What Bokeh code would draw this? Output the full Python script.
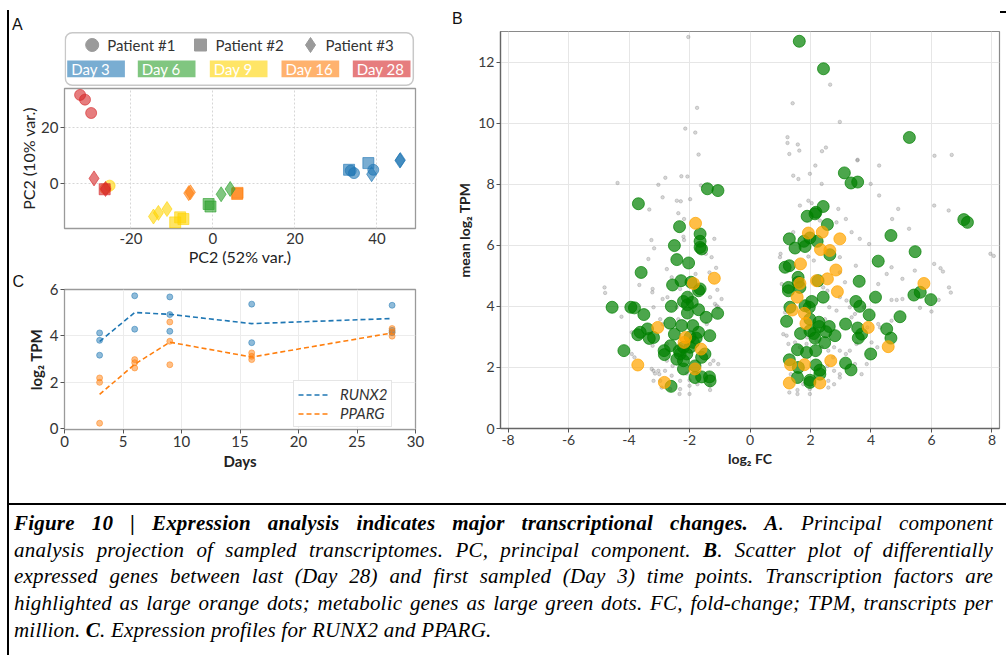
from bokeh.plotting import figure
from bokeh.layouts import row, column
from bokeh.models import Div, Range1d, Legend, LegendItem, FixedTicker, ColumnDataSource
from bokeh.embed import file_html
from bokeh.resources import INLINE

FONT = "Lato"

# ---------------- Panel A: PCA projection ----------------
day_labels = ["Day 3", "Day 6", "Day 9", "Day 16", "Day 28"]
day_colors = ["#1f77b4", "#2ca02c", "#ffd400", "#ff7f0e", "#d62728"]
patient_labels = ["Patient #1", "Patient #2", "Patient #3"]
patient_markers = ["circle", "square", "diamond"]

# day index (into day_labels), patient index (into patient_labels), PC1, PC2
pca_day = [2, 4, 4, 4, 4, 3, 4, 4,
           2, 2, 2, 2, 2, 2,
           3, 3, 3, 3,
           1, 1, 1, 1,
           0, 0, 0, 0, 0, 0, 0, 0]
pca_patient = [0, 0, 0, 0, 2, 0, 1, 2,
               2, 2, 2, 1, 1, 1,
               2, 2, 1, 1,
               1, 1, 2, 2,
               1, 1, 0, 0, 0, 2, 2, 2]
pca_x = [-25.2, -32.4, -31.2, -29.7, -29.0, -26.2, -26.4, -26.2,
         -14.5, -13.3, -11.2, -9.2, -8.0, -7.2,
         -5.9, -5.5, 5.9, 6.0,
         -1.05, -0.6, 2.0, 4.2,
         33.2, 37.9, 33.6, 34.4, 39.1, 38.7, 45.6, 45.7]
pca_y = [-0.8, 31.8, 30.1, 25.3, 1.8, -1.9, -2.1, -2.0,
         -11.9, -10.6, -9.2, -14.0, -12.2, -12.8,
         -3.5, -3.2, -3.8, -3.4,
         -7.4, -8.3, -3.9, -2.0,
         4.9, 7.3, 4.6, 3.7, 4.9, 3.3, 8.2, 8.4]

# ---------------- Panel B: differential expression ----------------
green_x = [-1.41, -1.06, -3.69, -2.33, -1.65, -1.65, -1.65, -1.60, -2.50, -2.42,
           -2.03, -3.60, -2.28, -2.56, -1.95, -1.65, -1.70, -2.07, -2.20, -1.91,
           -2.07, -4.56, -3.94, -3.82, -2.60, -1.70, -2.07, -3.51, -1.07, -1.45,
           -1.33, -2.65, -2.26, -1.89, -3.39, -3.63, -3.71, -3.33, -3.19, -2.50,
           -1.70, -1.78, -1.87, -1.98, -2.63, -2.84, -2.83, -2.34, -2.20, -2.09,
           -2.42, -2.20, -2.20, -1.49, -1.60, -4.17, -1.82, -1.82, -1.60, -1.34,
           -1.32, -2.61, -2.31, -1.98,
           1.63, 2.43, 5.27,
           3.12, 3.34, 3.56, 2.42, 2.18, 2.15, 1.89, 2.56, 7.07, 7.19,
           4.66, 1.30, 1.98, 2.22, 1.78, 1.49, 1.82, 2.64, 5.46, 4.24,
           1.16, 1.30, 3.61, 1.59, 1.59, 2.25, 1.27, 1.27, 1.65, 5.42,
           5.63, 5.98, 4.15, 2.42, 3.50, 3.63, 1.32, 1.82, 2.04, 1.96,
           3.94, 4.96, 1.21, 1.98, 2.28, 2.29, 2.62, 3.16, 1.98, 1.67,
           2.11, 2.51, 2.81, 3.56, 3.69, 3.58, 4.52, 4.66, 2.15, 2.47,
           1.57, 1.87, 2.17, 3.99, 1.30, 1.60, 2.18, 2.31, 2.31, 3.16,
           3.34, 1.57, 1.98, 1.98]
green_y = [7.85, 7.79, 7.36, 6.61, 6.37, 6.13, 5.93, 5.88, 5.99, 5.53,
           5.42, 5.11, 4.84, 4.70, 4.79, 4.57, 4.51, 4.30, 4.16, 4.13,
           4.05, 3.97, 3.97, 3.95, 4.00, 3.89, 3.78, 3.73, 3.77, 3.64,
           3.04, 3.45, 3.37, 3.37, 3.26, 3.15, 3.07, 2.95, 2.98, 3.09,
           3.15, 2.96, 2.82, 2.66, 2.71, 2.55, 2.42, 2.55, 2.66, 2.44,
           2.27, 2.22, 1.95, 2.44, 2.33, 2.55, 2.05, 1.67, 1.69, 1.69,
           1.56, 1.38, 2.44, 3.00,
           12.68, 11.78, 9.53,
           8.37, 8.04, 8.07, 7.27, 7.08, 7.03, 6.95, 6.68, 6.84, 6.75,
           6.32, 6.21, 6.24, 6.13, 6.13, 5.91, 5.96, 5.69, 5.79, 5.48,
           5.28, 5.33, 4.82, 4.95, 4.79, 4.84, 4.62, 4.51, 4.62, 4.37,
           4.46, 4.22, 4.30, 4.30, 4.16, 4.00, 3.97, 4.02, 4.16, 3.97,
           3.72, 3.66, 3.51, 3.58, 3.48, 3.34, 3.34, 3.42, 3.20, 3.11,
           3.11, 3.17, 3.04, 3.29, 3.09, 2.96, 3.26, 2.96, 2.96, 2.81,
           2.58, 2.49, 2.55, 2.44, 2.25, 2.00, 2.08, 1.91, 1.78, 2.14,
           1.92, 1.67, 1.58, 1.51]

orange_x = [-1.80, -1.18, -1.87, -3.05, -2.13, -2.18, -1.62, -3.71, -2.83, -1.82,
            1.93, 2.39, 2.97, 2.33, 2.64, 1.67, 2.84, 1.65, 2.20, 2.56,
            2.89, 5.75, 1.56, 1.40, 1.80, 1.85, 3.91, 4.57, 2.67, 1.34,
            1.80, 1.30, 2.31]
orange_y = [6.72, 4.92, 4.75, 3.31, 2.98, 2.82, 2.60, 2.08, 1.51, 1.95,
            6.40, 6.43, 6.21, 5.86, 5.83, 5.39, 5.19, 4.75, 4.84, 4.90,
            4.48, 4.75, 4.30, 3.88, 3.77, 3.44, 3.31, 2.68, 2.22, 2.09,
            2.09, 1.49, 1.49]

grey_x = [-2.04, -1.75, -2.14, -1.81, -1.70, 1.41, 2.65, 2.97, 1.24, 1.24,
          1.58, 1.63, 1.30, 2.38, 2.51, 6.10, 6.67, 3.56,
          -4.38, -2.80, -2.27, -2.07, -3.03, -2.89, -2.42, -2.29, -1.98, -1.62,
          -3.33, -2.37, -2.18, -3.26, -3.17, -2.20, -2.18, -1.18, -3.36, -2.75,
          -2.59, -4.81, -3.66, -3.22, -3.23, -1.12, -1.34, -1.08, -1.16, -1.10,
          -4.25, -3.19, -2.89, -2.73, -2.42, -2.37, -2.97, -2.89, -3.91, -2.75,
          -3.22, -3.91, -3.82, -3.25, -3.19, -3.14, -3.03, -3.00, -2.97, -3.19,
          -2.81, -2.59, -2.31, -2.31, -2.33, -2.00, -2.00, -2.00, -1.74, -1.32,
          -1.32, -1.32, -1.21, -1.05, -2.09, -2.56, -2.64, -2.92, -2.75, -1.43,
          -1.05, -1.32, -0.94, -1.46, -1.27, -1.80, -2.31, -4.79,
          3.55, 4.27, 1.43, 1.60, 2.16, 1.98, 2.37, 3.99, 4.27, 4.90,
          6.09, 6.57, 5.26, 4.70, 1.93, 2.04, 2.92, 3.17, 3.36, 3.63,
          3.94, 1.43, 1.65, 2.31, 2.86, 1.01, 0.99, 1.93, 2.97, 3.50,
          4.68, 4.52, 5.04, 6.09, 6.30, 6.58, 7.95, 6.24, 5.45, 5.62,
          6.00, 4.68, 4.85, 5.04, 4.24, 4.68, 3.77, 3.19, 3.30, 2.86,
          2.97, 2.62, 2.48, 1.16, 1.10, 1.21, 1.27, 1.49, 1.65, 1.87,
          1.89, 2.20, 2.37, 2.59, 2.78, 2.97, 2.75, 2.56, 2.78, 2.97,
          2.97, 2.78, 2.59, 2.59, 1.98, 1.98, 1.57, 1.57, 1.30, 1.76,
          1.35, 3.47, 3.69, 3.86, 4.02, 4.21, 3.52, 3.30, 3.17, 3.36,
          3.47, 3.88, 4.30, 1.05, 2.56, 2.42, 2.11, 2.97, 3.14, 4.24,
          6.64, 6.38, 8.06]
grey_y = [12.82, 10.50, 9.82, 9.69, 8.97, 10.65, 11.26, 10.04, 9.54, 9.35,
          9.30, 9.10, 8.99, 9.08, 9.20, 8.93, 8.96, 8.80,
          8.04, 8.21, 8.26, 8.25, 7.98, 7.57, 7.46, 7.44, 7.51, 7.96,
          7.17, 7.05, 6.86, 6.17, 5.90, 6.28, 6.17, 6.21, 5.55, 5.22,
          4.95, 4.62, 4.70, 4.57, 4.46, 5.26, 5.11, 4.54, 4.08, 4.02,
          3.66, 3.97, 4.24, 4.30, 3.97, 3.58, 3.58, 3.42, 3.15, 2.77,
          2.71, 2.44, 2.33, 1.95, 1.89, 1.80, 1.89, 1.78, 1.56, 1.56,
          1.89, 1.73, 1.56, 1.29, 1.13, 1.13, 1.40, 1.58, 1.45, 1.40,
          1.26, 2.11, 2.22, 2.11, 1.80, 2.05, 1.29, 1.34, 2.22, 3.42,
          3.97, 4.30, 4.24, 5.72, 5.61, 5.06, 4.57, 4.44,
          8.78, 8.61, 8.28, 8.17, 8.61, 8.34, 8.01, 8.01, 7.63, 7.19,
          7.30, 7.14, 6.54, 6.86, 7.46, 7.38, 7.19, 6.86, 6.43, 6.21,
          6.04, 6.43, 7.30, 6.81, 6.75, 5.72, 5.61, 5.63, 5.61, 5.33,
          5.28, 5.06, 4.90, 5.39, 5.25, 4.62, 5.72, 4.21, 5.17, 3.95,
          3.83, 4.21, 4.21, 4.24, 3.42, 3.53, 3.97, 4.19, 3.97, 3.86,
          4.30, 3.97, 3.58, 3.80, 3.09, 3.04, 2.77, 2.82, 2.66, 2.77,
          2.98, 2.87, 2.66, 2.55, 2.66, 2.55, 2.33, 2.05, 1.89, 1.78,
          1.67, 1.45, 1.34, 1.56, 1.29, 1.13, 1.26, 1.13, 1.18, 1.45,
          1.78, 2.11, 1.78, 2.11, 2.82, 2.66, 2.77, 2.55, 2.44, 3.64,
          3.75, 3.31, 3.31, 4.73, 4.51, 4.62, 5.50, 5.11, 4.79, 4.73,
          4.45, 5.14, 5.65]

# ---------------- Panel C: expression profiles ----------------
days = [3, 6, 9, 16, 28]
runx2_mean = [3.76, 5.01, 4.93, 4.53, 4.75]
pparg_mean = [1.48, 2.78, 3.73, 3.09, 4.13]
runx2_days = [3, 3, 3, 6, 6, 9, 9, 9, 16, 16, 28, 28, 28]
runx2_vals = [4.13, 3.81, 3.17, 5.73, 4.29, 5.68, 4.92, 4.20, 5.37, 3.71, 5.32, 4.24, 4.14]
pparg_days = [3, 3, 3, 6, 6, 6, 9, 9, 9, 16, 16, 16, 28, 28, 28]
pparg_vals = [2.19, 2.00, 0.24, 2.98, 2.85, 2.62, 4.60, 3.77, 2.76, 3.27, 3.12, 2.98, 4.32, 4.17, 3.99]

caption_lines = [
    "<b>Figure 10 | Expression analysis indicates major transcriptional changes. A</b>. Principal component",
    "analysis projection of sampled transcriptomes. PC, principal component. <b>B</b>. Scatter plot of differentially",
    "expressed genes between last (Day 28) and first sampled (Day 3) time points. Transcription factors are",
    "highlighted as large orange dots; metabolic genes as large green dots. FC, fold-change; TPM, transcripts per",
    "million. <b>C</b>. Expression profiles for RUNX2 and PPARG.",
]

# left/right borders shared by the stacked panels of the left column
COL_LEFT, COL_RIGHT = 55, 25


def base_style(p, tick_px, tick_color="#333333"):
    p.background_fill_color = "white"
    p.border_fill_color = "white"
    for ax in (p.xaxis, p.yaxis):
        ax.major_label_text_font = FONT
        ax.major_label_text_font_size = tick_px
        ax.major_label_text_color = tick_color
        ax.axis_label_text_font = FONT
        ax.axis_label_text_color = "#222222"
        ax.minor_tick_line_color = None
        ax.major_tick_in = 0
        ax.major_tick_out = 4
        ax.major_tick_line_color = "#555555"
        ax.major_label_standoff = 2
        ax.axis_label_standoff = 2


def hyphen_labels(ticks):
    return {t: str(t) for t in ticks if t < 0}


def panel_letter(letter, width, height, pad_top, pad_left, extra=""):
    html = (f'<div style="position:relative;width:{width}px;height:{height}px;">'
            f'<div style="padding:{pad_top}px 0 0 {pad_left}px;font-family:\'Liberation Sans\',sans-serif;'
            f'font-size:16px;line-height:16px;color:#111;">{letter}</div>{extra}</div>')
    return Div(width=width, height=height, margin=0, text=html)


# ---- panel letter A and the legend strip (pixel-like coordinates) ----
labA = panel_letter("A", 431, 31, 17, 3)
leg = figure(width=431, height=56, x_range=Range1d(64, 415), y_range=Range1d(87, 31),
             x_axis_type=None, y_axis_type=None,
             toolbar_location=None, output_backend="svg",
             min_border_left=COL_LEFT, min_border_right=COL_RIGHT,
             min_border_top=0, min_border_bottom=0)
leg.grid.visible = False
leg.outline_line_color = None
leg.background_fill_color = "white"
leg.border_fill_color = "white"

leg.rect(x=[238.8], y=[58.5], width=348, height=52.5, fill_color="white",
         line_color="#c8c8c8", line_width=1.5, border_radius=7)

pat_marker_x = [91.7, 200.0, 310.0]
pat_marker_size = [13, 12, 15]
for i, lab in enumerate(patient_labels):
    leg.scatter(x=[pat_marker_x[i]], y=[44.5], marker=patient_markers[i],
                size=pat_marker_size[i], fill_color="#9a9a9a", line_color="#9a9a9a")
    leg.text(x=[pat_marker_x[i] + 15], y=[44.5], text=[lab], text_font_size="15px",
             text_color="#333333", text_baseline="middle", text_font={"value": FONT})

box_left = [66.7, 137.3, 209.3, 281.0, 352.3]
for i, lab in enumerate(day_labels):
    leg.quad(left=[box_left[i]], right=[box_left[i] + 57.7], top=[60], bottom=[76.7],
             fill_color=day_colors[i], fill_alpha=0.6, line_color=None)
    leg.text(x=[box_left[i] + 4], y=[68.6], text=[lab], text_font_size="15px",
             text_color="white", text_baseline="middle", text_font={"value": FONT})

# ---- panel A plot ----
pA = figure(width=431, height=183, x_range=Range1d(-36.2, 49.4), y_range=Range1d(-16.2, 34.1),
            toolbar_location=None, output_backend="svg",
            min_border_left=COL_LEFT, min_border_right=COL_RIGHT, min_border_top=1, min_border_bottom=42)
base_style(pA, "15px")
pA.xaxis.ticker = FixedTicker(ticks=[-20, 0, 20, 40])
pA.xaxis.major_label_overrides = hyphen_labels([-20, 0, 20, 40])
pA.yaxis.ticker = FixedTicker(ticks=[0, 20])
pA.xaxis.axis_label = "PC2 (52% var.)"
pA.yaxis.axis_label = "PC2 (10% var.)"
pA.xaxis.axis_label_text_font_size = "16px"
pA.yaxis.axis_label_text_font_size = "16px"
pA.xaxis.axis_label_text_font_style = "normal"
pA.yaxis.axis_label_text_font_style = "normal"
pA.xaxis.axis_label_standoff = 0
pA.yaxis.axis_label_standoff = 0
pA.xaxis.major_tick_out = 0
pA.xaxis.major_label_standoff = 4
pA.axis.axis_line_color = None
pA.outline_line_color = "#9a9a9a"
pA.outline_line_width = 1.3
pA.grid.grid_line_color = "#d6d6d6"
pA.grid.grid_line_dash = "2 2"

size_by_marker = {"circle": 11, "square": 11, "diamond": 15}
srcA = ColumnDataSource(dict(
    x=pca_x, y=pca_y,
    marker=[patient_markers[k] for k in pca_patient],
    color=[day_colors[k] for k in pca_day],
    size=[size_by_marker[patient_markers[k]] for k in pca_patient],
))
pA.scatter(x="x", y="y", marker="marker", size="size", fill_color="color",
           line_color="color", fill_alpha=0.6, line_alpha=0.6, source=srcA)

# ---- panel C plot ----
pC = figure(width=431, height=206, x_range=Range1d(0, 30), y_range=Range1d(-0.03, 6.0),
            toolbar_location=None, output_backend="svg",
            min_border_left=COL_LEFT, min_border_right=COL_RIGHT, min_border_top=19, min_border_bottom=47)
pC.title.text = "C"
pC.title.align = "left"
pC.title.offset = -52
pC.title.standoff = 0
pC.title.text_font = "Liberation Sans"
pC.title.text_font_size = "16px"
pC.title.text_font_style = "normal"
pC.title.text_color = "#111111"
base_style(pC, "15px")
pC.xaxis.ticker = FixedTicker(ticks=[0, 5, 10, 15, 20, 25, 30])
pC.yaxis.ticker = FixedTicker(ticks=[0, 2, 4, 6])
pC.xaxis.axis_label = "Days"
pC.yaxis.axis_label = "log\u2082 TPM"
for ax in (pC.xaxis, pC.yaxis):
    ax.axis_label_text_font_size = "15px"
    ax.axis_label_text_font_style = "bold"
pC.axis.axis_line_color = None
pC.outline_line_color = "#9a9a9a"
pC.outline_line_width = 1.3
pC.grid.grid_line_color = "#ececec"

pC.scatter(runx2_days, runx2_vals, size=6, color="#1f77b4", alpha=0.5)
pC.scatter(pparg_days, pparg_vals, size=6, color="#ff7f0e", alpha=0.5)
r_runx2 = pC.line(days, runx2_mean, line_dash="5 3", line_width=1.6, color="#1f77b4")
r_pparg = pC.line(days, pparg_mean, line_dash="5 3", line_width=1.6, color="#ff7f0e")
legC = Legend(items=[LegendItem(label="RUNX2", renderers=[r_runx2]),
                     LegendItem(label="PPARG", renderers=[r_pparg])],
              location=(229, 2))
legC.label_text_font = FONT
legC.label_text_font_style = "italic"
legC.label_text_font_size = "15px"
legC.label_text_color = "#333333"
legC.glyph_width = 32
legC.glyph_height = 13
legC.label_height = 13
legC.spacing = 1
legC.padding = 4
legC.margin = 0
legC.label_standoff = 10
legC.border_line_color = "#cccccc"
pC.add_layout(legC)

# ---- panel B plot ----
corner_tick = '<div style="position:absolute;left:560px;top:11px;width:6px;height:1.5px;background:#000;"></div>'
labB = panel_letter("B", 566, 30, 11, 12, extra=corner_tick)
pB = figure(width=566, height=446, x_range=Range1d(-8.25, 8.25), y_range=Range1d(0, 13),
            toolbar_location=None, output_backend="svg",
            min_border_left=60, min_border_right=7, min_border_top=1, min_border_bottom=48)
base_style(pB, "14px", "#3a3a3a")
b_xticks = list(range(-8, 9, 2))
pB.xaxis.ticker = FixedTicker(ticks=b_xticks)
pB.xaxis.major_label_overrides = hyphen_labels(b_xticks)
pB.yaxis.ticker = FixedTicker(ticks=list(range(0, 13, 2)))
pB.xaxis.axis_label = "log\u2082 FC"
pB.yaxis.axis_label = "mean log\u2082 TPM"
for ax in (pB.xaxis, pB.yaxis):
    ax.axis_label_text_font_size = "14px"
    ax.axis_label_text_font_style = "bold"
    ax.axis_line_color = "#666666"
    ax.axis_line_width = 1.3
pB.outline_line_color = "#8a8a8a"
pB.outline_line_width = 1.2
pB.grid.grid_line_color = "#e6e6e6"

pB.scatter(grey_x, grey_y, size=3.5, color="#7a7a7a", alpha=0.3)
pB.scatter(green_x, green_y, size=12, color="#008000", alpha=0.7)
pB.scatter(orange_x, orange_y, size=12, color="#ffa500", alpha=0.72)

# ---- page frame and caption ----
left_rule = Div(width=9, height=655, margin=0,
                text='<div style="padding:10px 0 0 7px;"><div style="width:2px;height:645px;background:#000;"></div></div>')

line_divs = []
for i, ln in enumerate(caption_lines):
    last = "left" if i == len(caption_lines) - 1 else "justify"
    line_divs.append(f'<div style="white-space:nowrap;text-align:justify;text-align-last:{last};">{ln}</div>')
caption_html = (
    '<div style="width:997px;height:27px;"></div>'
    '<div style="width:997px;height:0;border-top:2px solid #000;"></div>'
    '<div style="width:984px;padding:5px 0 0 5px;font-family:\'Liberation Serif\',serif;'
    'font-style:italic;font-size:21px;letter-spacing:0.2px;line-height:26.7px;color:#000;">'
    + "".join(line_divs) + '</div>'
)
caption = Div(width=997, height=178, margin=0, text=caption_html)

col_ac = column(labA, leg, pA, pC, spacing=0)
col_b = column(labB, pB, spacing=0)
top = row(col_ac, col_b, spacing=0)
content = column(top, caption, spacing=0)
layout = row(left_rule, content, spacing=0)

open("out.html", "w").write(file_html(layout, INLINE))
